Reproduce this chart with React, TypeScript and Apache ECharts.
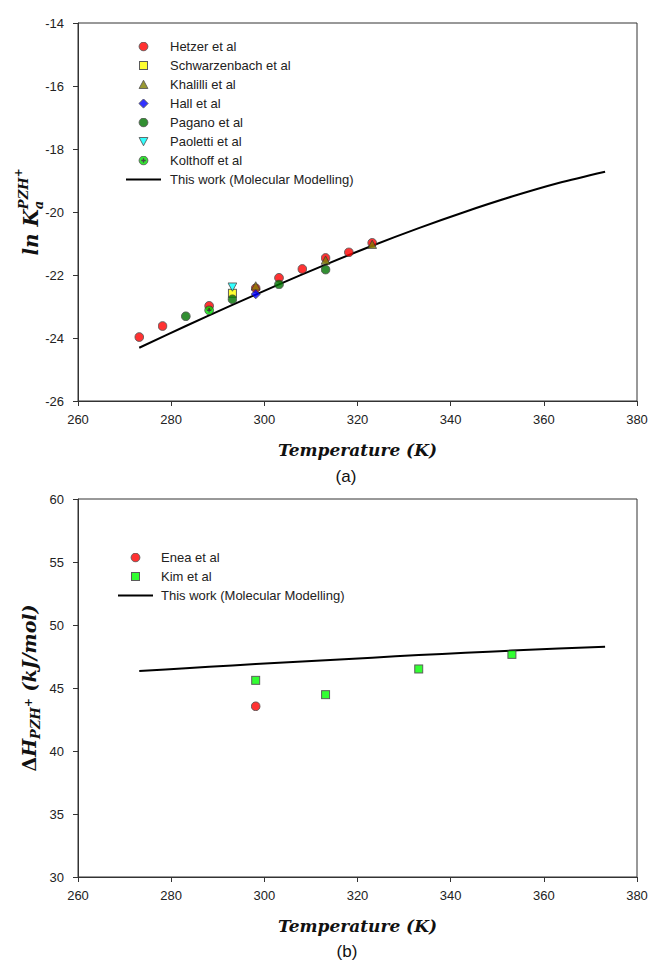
import React, { useEffect, useRef } from 'react';
import * as echarts from 'echarts';

// ---------- Data (a) ----------
const hetzerT = [273.15, 278.15, 288.15, 298.15, 303.15, 308.15, 313.15, 318.15, 323.15];
const hetzerLnKa = [-23.97, -23.62, -22.98, -22.42, -22.09, -21.81, -21.46, -21.28, -20.98];
const schwarzT = [293.15];
const schwarzLnKa = [-22.58];
const khalilliT = [298.15, 313.15, 323.15];
const khalilliLnKa = [-22.35, -21.53, -21.03];
const hallT = [298.15];
const hallLnKa = [-22.61];
const paganoT = [283.15, 293.15, 303.15, 313.15];
const paganoLnKa = [-23.31, -22.77, -22.3, -21.83];
const paolettiT = [293.15];
const paolettiLnKa = [-22.38];
const kolthoffT = [288.15];
const kolthoffLnKa = [-23.12];
const modelT = [273.15, 283.15, 293.15, 303.15, 313.15, 323.15, 333.15, 343.15, 353.15, 363.15, 373.15];
const modelLnKa = [-24.31, -23.62, -22.95, -22.3, -21.67, -21.07, -20.51, -19.99, -19.51, -19.08, -18.72];

// ---------- Data (b) ----------
const eneaT = [298.15];
const eneaDH = [43.55];
const kimT = [298.15, 313.15, 333.15, 353.15];
const kimDH = [45.61, 44.47, 46.51, 47.67];
const modelDH = [46.35, 46.57, 46.79, 47.0, 47.21, 47.41, 47.61, 47.8, 47.97, 48.13, 48.27];

const xTicksMin = 260, xTicksMax = 380, xInterval = 20;
const yAMin = -26, yAMax = -14, yAInterval = 2;
const yBMin = 30, yBMax = 60, yBInterval = 5;

const namesA = ['Hetzer et al', 'Schwarzenbach et al', 'Khalilli et al', 'Hall et al', 'Pagano et al', 'Paoletti et al', 'Kolthoff et al', 'This work (Molecular Modelling)'];
const namesB = ['Enea et al', 'Kim et al', 'This work (Molecular Modelling)'];

const zip = (xs: number[], ys: number[]) => xs.map((x, i) => [x, ys[i]]);

function textWidth(text: string, font: string) {
  const ctx = document.createElement('canvas').getContext('2d')!;
  ctx.font = font;
  return ctx.measureText(text).width;
}

const svgSymbol = (inner: string) =>
  'image://data:image/svg+xml;utf8,' +
  encodeURIComponent('<svg xmlns="http://www.w3.org/2000/svg" width="20" height="20" viewBox="0 0 20 20">' + inner + '</svg>');

const SERIF = '"DejaVu Serif"';
const SANS = '"Liberation Sans", Arial';

export default function App() {
  const ref = useRef<HTMLDivElement>(null);
  useEffect(() => {
    if (!ref.current) return;
    const chart = echarts.init(ref.current, undefined, { renderer: 'svg' });

    const symRect = (fill: string) => svgSymbol(`<rect x="2" y="2" width="16" height="16" fill="${fill}" stroke="#333" stroke-width="2"/>`);
    const symTri = (fill: string) => svgSymbol(`<polygon points="10,1.5 18.8,18 1.2,18" fill="${fill}" stroke="#333" stroke-width="1.8"/>`);
    const symTriDown = (fill: string) => svgSymbol(`<polygon points="1.2,2 18.8,2 10,18.5" fill="${fill}" stroke="#333" stroke-width="1.8"/>`);
    const symDiamond = (fill: string) => svgSymbol(`<polygon points="10,0.8 19.2,10 10,19.2 0.8,10" fill="${fill}" stroke="#333" stroke-width="1.8"/>`);
    const symCircle = (fill: string) => svgSymbol(`<circle cx="10" cy="10" r="8.8" fill="${fill}" stroke="#333" stroke-width="1.8"/>`);
    const symKolthoff = svgSymbol('<circle cx="10" cy="10" r="8.8" fill="#00e000" stroke="#333" stroke-width="1.8"/><path d="M10 5.5V14.5M5.5 10H14.5" stroke="#1a1a1a" stroke-width="2.6"/>');

    const scatter = (name: string, data: number[][], symbol: string, color: string, gi: number) => ({
      type: 'scatter', name, data, symbol, symbolSize: 10, xAxisIndex: gi, yAxisIndex: gi,
      itemStyle: { color },
    });
    const modelLine = (name: string, data: number[][], gi: number) => ({
      type: 'line', name, data, smooth: 0.3, symbol: 'none', xAxisIndex: gi, yAxisIndex: gi,
      lineStyle: { color: '#000', width: 2 }, itemStyle: { color: '#000', opacity: 0 }, z: 1,
    });

    // y-axis titles built from pieces
    const fBI = (s: number) => `italic bold ${s}px ${SERIF}`;
    const fB = (s: number) => `bold ${s}px ${SERIF}`;
    const wLnK = textWidth('ln K', fBI(20));
    const wPZHa = textWidth('PZH', fBI(13));
    const wPlusA = textWidth('+', fB(11));
    const totA = wLnK + wPZHa + wPlusA;
    const sA = -totA / 2;
    const t = (text: string, x: number, y: number, size: number, italic = true) => ({
      type: 'text', x, y,
      style: { text, fontFamily: SERIF, fontSize: size, fontWeight: 'bold', fontStyle: italic ? 'italic' : 'normal', fill: '#111', align: 'left', verticalAlign: 'middle' },
    });
    const labelA = {
      type: 'group', x: 31, y: 212, rotation: Math.PI / 2,
      children: [
        t('ln K', sA, 0, 20),
        t('a', sA + wLnK, 7, 13),
        t('PZH', sA + wLnK, -8, 13),
        t('+', sA + wLnK + wPZHa, -13, 11, false),
      ],
    };
    const wDelta = textWidth('Δ', fB(19));
    const wH = textWidth('H', fBI(19));
    const wPZHb = textWidth('PZH', fBI(13));
    const wPlusB = textWidth('+', fB(11));
    const wUnit = textWidth(' (kJ/mol)', fBI(19));
    const totB = wDelta + wH + wPZHb + wPlusB + wUnit;
    const sB = -totB / 2;
    const labelB = {
      type: 'group', x: 29, y: 688, rotation: Math.PI / 2,
      children: [
        t('Δ', sB, 0, 19, false),
        t('H', sB + wDelta, 0, 19),
        t('PZH', sB + wDelta + wH, 6, 13),
        t('+', sB + wDelta + wH + wPZHb, -1, 11, false),
        t(' (kJ/mol)', sB + wDelta + wH + wPZHb + wPlusB, 0, 19),
      ],
    };

    const axisCommon = {
      type: 'value',
      axisLine: { show: true, onZero: false, lineStyle: { color: '#333', width: 1 } },
      axisTick: { show: true, length: 5, lineStyle: { color: '#333' } },
      splitLine: { show: false },
    };
    const xAxis = (gi: number) => ({
      ...axisCommon, gridIndex: gi, min: xTicksMin, max: xTicksMax, interval: xInterval,
      name: 'Temperature (K)', nameLocation: 'middle', nameGap: 40,
      nameTextStyle: { fontFamily: SERIF, fontStyle: 'italic', fontWeight: 'bold', fontSize: 17, color: '#111' },
      axisLabel: { margin: 12, fontFamily: SANS, fontSize: 13, color: '#222' },
    });
    const legendText = { fontFamily: SANS, fontSize: 13, color: '#222' };

    chart.setOption({
      animation: false,
      backgroundColor: '#fff',
      grid: [
        { left: 78, right: 17, top: 23, height: 378, show: true, borderColor: '#333', borderWidth: 1 },
        { left: 78, right: 17, top: 499, height: 378, show: true, borderColor: '#333', borderWidth: 1 },
      ],
      xAxis: [xAxis(0), xAxis(1)],
      yAxis: [
        { ...axisCommon, gridIndex: 0, min: yAMin, max: yAMax, interval: yAInterval, axisLabel: { margin: 14, fontFamily: SANS, fontSize: 13, color: '#222' } },
        { ...axisCommon, gridIndex: 1, min: yBMin, max: yBMax, interval: yBInterval, axisLabel: { margin: 14, fontFamily: SANS, fontSize: 13, color: '#222' } },
      ],
      legend: [
        { left: 120, top: 35, orient: 'vertical', itemWidth: 35, itemHeight: 10, itemGap: 6, data: namesA, textStyle: { ...legendText, padding: [0, 0, 0, 4] }, selectedMode: false },
        { left: 112, top: 546, orient: 'vertical', itemWidth: 35, itemHeight: 10, itemGap: 6, data: namesB, textStyle: { ...legendText, padding: [0, 0, 0, 3] }, selectedMode: false },
      ],
      graphic: [
        labelA, labelB,
        { type: 'text', x: 346, y: 476, style: { text: '(a)', fontFamily: SANS, fontSize: 17, fill: '#111', align: 'center', verticalAlign: 'middle' } },
        { type: 'text', x: 347, y: 951, style: { text: '(b)', fontFamily: SANS, fontSize: 17, fill: '#111', align: 'center', verticalAlign: 'middle' } },
      ],
      series: [
        modelLine(namesA[7], zip(modelT, modelLnKa), 0),
        scatter(namesA[0], zip(hetzerT, hetzerLnKa), symCircle('#ff0000'), '#ff0000', 0),
        scatter(namesA[1], zip(schwarzT, schwarzLnKa), symRect('#ffff00'), '#ffff00', 0),
        scatter(namesA[2], zip(khalilliT, khalilliLnKa), symTri('#808000'), '#808000', 0),
        scatter(namesA[3], zip(hallT, hallLnKa), symDiamond('#0000ff'), '#0000ff', 0),
        scatter(namesA[4], zip(paganoT, paganoLnKa), symCircle('#007400'), '#007400', 0),
        scatter(namesA[5], zip(paolettiT, paolettiLnKa), symTriDown('#00ffff'), '#00ffff', 0),
        scatter(namesA[6], zip(kolthoffT, kolthoffLnKa), symKolthoff, '#00e000', 0),
        modelLine(namesB[2], zip(modelT, modelDH), 1),
        scatter(namesB[0], zip(eneaT, eneaDH), symCircle('#ff0000'), '#ff0000', 1),
        scatter(namesB[1], zip(kimT, kimDH), symRect('#00ff00'), '#00ff00', 1),
      ],
    });
    return () => chart.dispose();
  }, []);
  return <div ref={ref} style={{ position: 'absolute', left: 0, top: 0, width: 654, height: 961 }} />;
}
